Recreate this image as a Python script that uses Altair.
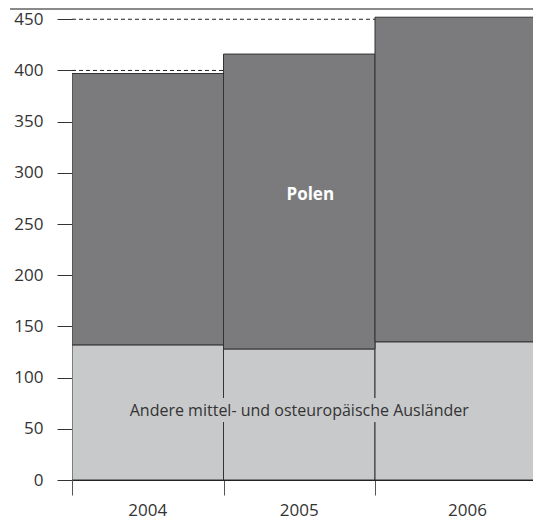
import altair as alt
import pandas as pd

years = ["2004", "2005", "2006"]
andere = [132, 128, 135]          # Andere mittel- und osteuropäische Ausländer
gesamt = [397, 416, 452]          # total (Polen stacked on top)
polen = [g - a for g, a in zip(gesamt, andere)]
band_widths = [1, 1, 1.22]        # last band is partly cut off at the right edge
grid_values = [400, 450]
y_ticks = list(range(0, 451, 50))

starts = [sum(band_widths[:i]) for i in range(len(band_widths))]
ends = [s + w for s, w in zip(starts, band_widths)]
mids = [(s + e) / 2 for s, e in zip(starts, ends)]

df = pd.DataFrame({
    "year": years, "start": starts, "end": ends, "mid": mids,
    "andere": andere, "gesamt": gesamt, "polen": polen,
})
grid_df = pd.DataFrame({"v": grid_values})

W, H = 461, 472
XMAX = 461 / 151.5
YMAX = 461

FONT = "Open Sans"
TXT = "#333333"

xscale = alt.Scale(domain=[0, XMAX], nice=False, zero=False)
yscale = alt.Scale(domain=[0, YMAX], nice=False)

xaxis = alt.Axis(values=[0, 1, 2], labels=False, tickSize=15, tickColor="#555555",
                 domainColor="#222222", domainWidth=1, grid=False, title=None)
yaxis = alt.Axis(values=y_ticks, tickSize=15, tickColor=TXT, labelColor=TXT,
                 labelFontSize=17, labelFont=FONT, labelPadding=14, domain=False,
                 grid=False, title=None)

base = alt.Chart(df)

grid = alt.Chart(grid_df).mark_rule(color="#222222", strokeDash=[4, 3], strokeWidth=1).encode(
    x=alt.value(0), x2=alt.value(W),
    y=alt.Y("v:Q", scale=yscale, axis=yaxis),
)

light = base.mark_bar(fill="#c8c9cb", stroke="#333333", strokeWidth=1, clip=True).encode(
    x=alt.X("start:Q", scale=xscale, axis=xaxis),
    x2="end:Q",
    y=alt.Y("zero:Q", scale=yscale, axis=yaxis),
    y2="andere:Q",
).transform_calculate(zero="0")

dark = base.mark_bar(fill="#7b7b7d", stroke="#333333", strokeWidth=1, clip=True).encode(
    x=alt.X("start:Q", scale=xscale, axis=xaxis),
    x2="end:Q",
    y=alt.Y("andere:Q", scale=yscale, axis=yaxis),
    y2="gesamt:Q",
)

label_df = pd.DataFrame({
    "text": ["Polen", "Andere mittel- und osteuropäische Ausländer"],
    "x": [mids[1], mids[1]],
    "y": [278, 67],
})

polen_label = alt.Chart(label_df[label_df.text == "Polen"]).mark_text(
    font=FONT, fontSize=17, fontWeight="bold", color="white", dx=11, baseline="middle"
).encode(x=alt.X("x:Q", scale=xscale), y=alt.Y("y:Q", scale=yscale), text="text:N")

andere_df = label_df[label_df.text != "Polen"]
andere_halo = alt.Chart(andere_df).mark_text(
    font=FONT, fontSize=16, color="#c8c9cb", stroke="#c8c9cb", strokeWidth=12, baseline="middle"
).encode(x=alt.X("x:Q", scale=xscale), y=alt.Y("y:Q", scale=yscale), text="text:N")
andere_label = alt.Chart(andere_df).mark_text(
    font=FONT, fontSize=16, color=TXT, baseline="middle"
).encode(x=alt.X("x:Q", scale=xscale), y=alt.Y("y:Q", scale=yscale), text="text:N")

year_labels = base.mark_text(font=FONT, fontSize=17, color=TXT, baseline="middle").encode(
    x=alt.X("mid:Q", scale=xscale), y=alt.value(H + 31), text="year:N"
)

top_line = alt.Chart(df).mark_rule(color="#8a8a8a", strokeWidth=2).encode(
    x=alt.value(-62), x2=alt.value(W), y=alt.value(1)
)

chart = alt.layer(
    grid, light, dark, andere_halo, andere_label, polen_label, year_labels, top_line
).properties(
    width=W, height=H,
    autosize=alt.AutoSizeParams(type="none"),
    padding={"left": 64, "top": 0, "right": 0, "bottom": 44},
).configure_view(stroke=None)

chart.save("out.html", embed_options={"renderer": "svg", "actions": False})
